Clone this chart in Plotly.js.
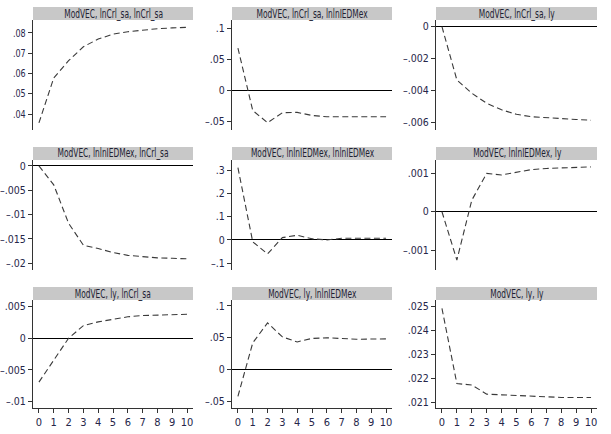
<!DOCTYPE html>
<html>
<head>
<meta charset="utf-8">
<script src="https://cdn.plot.ly/plotly-3.0.1.min.js"></script>
<style>html,body{margin:0;padding:0;background:#fff;}#chart{width:611px;height:434px;}</style>
</head>
<body>
<div id="chart"></div>
<script>
// Periods
var periods = [0,1,2,3,4,5,6,7,8,9,10];

// Panel titles
var panelTitles = [
  "ModVEC, lnCrl_sa, lnCrl_sa",
  "ModVEC, lnCrl_sa, lnlnIEDMex",
  "ModVEC, lnCrl_sa, ly",
  "ModVEC, lnlnIEDMex, lnCrl_sa",
  "ModVEC, lnlnIEDMex, lnlnIEDMex",
  "ModVEC, lnlnIEDMex, ly",
  "ModVEC, ly, lnCrl_sa",
  "ModVEC, ly, lnlnIEDMex",
  "ModVEC, ly, ly"
];

// Impulse responses
var crl_crl   = [0.0356, 0.0578, 0.0663, 0.0732, 0.0770, 0.0794, 0.0806, 0.0815, 0.0821, 0.0825, 0.0828];
var crl_ied   = [0.0682, -0.0320, -0.0516, -0.0356, -0.0350, -0.0400, -0.0420, -0.0420, -0.0420, -0.0420, -0.0420];
var crl_ly    = [0.0000, -0.00333, -0.00416, -0.00479, -0.00520, -0.00548, -0.00563, -0.00570, -0.00577, -0.00580, -0.00585];
var ied_crl   = [0.0000, -0.0039, -0.0118, -0.0163, -0.0170, -0.0178, -0.0184, -0.0187, -0.0189, -0.0190, -0.0191];
var ied_ied   = [0.310, -0.008, -0.060, 0.010, 0.020, 0.005, 0.000, 0.007, 0.007, 0.007, 0.007];
var ied_ly    = [0.0000, -0.00126, 0.00030, 0.00100, 0.00096, 0.00103, 0.00110, 0.00113, 0.00115, 0.00116, 0.00117];
var ly_crl    = [-0.00694, -0.00342, 0.0000, 0.0020, 0.0026, 0.0030, 0.0034, 0.0036, 0.0037, 0.0037, 0.0038];
var ly_ied    = [-0.042, 0.042, 0.0734, 0.0514, 0.0435, 0.049, 0.050, 0.049, 0.0477, 0.048, 0.0483];
var ly_ly     = [0.02493, 0.02179, 0.02173, 0.02135, 0.02132, 0.02129, 0.02125, 0.02122, 0.02121, 0.02121, 0.02121];

var series = [crl_crl, crl_ied, crl_ly, ied_crl, ied_ied, ied_ly, ly_crl, ly_ied, ly_ly];

// Y tick values and labels
var yTickVals = [
  [0.04, 0.05, 0.06, 0.07, 0.08],
  [-0.05, 0, 0.05, 0.1],
  [-0.006, -0.004, -0.002, 0],
  [-0.02, -0.015, -0.01, -0.005, 0],
  [-0.1, 0, 0.1, 0.2, 0.3],
  [-0.001, 0, 0.001],
  [-0.01, -0.005, 0, 0.005],
  [-0.05, 0, 0.05, 0.1],
  [0.021, 0.022, 0.023, 0.024, 0.025]
];
var yTickText = [
  [".04", ".05", ".06", ".07", ".08"],
  ["\u2013.05", "0", ".05", ".1"],
  ["\u2013.006", "\u2013.004", "\u2013.002", "0"],
  ["\u2013.02", "\u2013.015", "\u2013.01", "\u2013.005", "0"],
  ["\u2013.1", "0", ".1", ".2", ".3"],
  ["\u2013.001", "0", ".001"],
  ["\u2013.01", "\u2013.005", "0", ".005"],
  ["\u2013.05", "0", ".05", ".1"],
  [".021", ".022", ".023", ".024", ".025"]
];
var xTickText = ["0","1","2","3","4","5","6","7","8","9","10"];

// layout geometry (pixels)
var W = 611, H = 434;
var colPx = [[33,193],[232,392],[436,597]];
var rowPx = [[20,130],[160,270],[300,408]];
var yRanges = [
  [0.0321, 0.0864],
  [-0.0633, 0.1133],
  [-0.00646, 0.00042],
  [-0.0214, 0.0012],
  [-0.129, 0.343],
  [-0.00152, 0.00135],
  [-0.01104, 0.00606],
  [-0.0604, 0.1094],
  [0.02077, 0.02528]
];

var FAM = "Liberation Sans Narrow, DejaVu Sans Condensed, sans-serif";
var yTickFont = {family: FAM, size: 10.5, color: "#26264a"};
var xTickFont = {family: FAM, size: 11, color: "#26264a"};
var traces = [];
var layout = {
  width: W, height: H,
  margin: {l:0, r:0, t:0, b:0},
  paper_bgcolor: "#ffffff",
  plot_bgcolor: "#ffffff",
  showlegend: false,
  shapes: [],
  annotations: []
};

for (var i = 0; i < 9; i++) {
  var r = Math.floor(i / 3), c = i % 3;
  var n = i + 1;
  var xa = "xaxis" + (n === 1 ? "" : n);
  var ya = "yaxis" + (n === 1 ? "" : n);
  var xs = "x" + (n === 1 ? "" : n);
  var ys = "y" + (n === 1 ? "" : n);
  var x0 = colPx[c][0] / W, x1 = colPx[c][1] / W;
  var yb = 1 - rowPx[r][1] / H, yt = 1 - rowPx[r][0] / H;
  var bottom = (r === 2);

  traces.push({
    x: periods, y: series[i], xaxis: xs, yaxis: ys,
    type: "scatter", mode: "lines",
    line: {color: "#3a3a3a", width: 1.1, dash: "6px,3.5px"},
    hoverinfo: "skip"
  });

  layout[xa] = {
    domain: [x0, x1], anchor: ys, range: [-0.4, 10.4],
    showgrid: false, zeroline: false,
    showline: bottom, linecolor: "#333333", linewidth: 1,
    ticks: bottom ? "outside" : "", ticklen: 4, tickcolor: "#333333",
    tickvals: periods, ticktext: xTickText,
    showticklabels: bottom, tickfont: xTickFont, fixedrange: true
  };
  layout[ya] = {
    domain: [yb, yt], anchor: xs, range: yRanges[i],
    showgrid: false,
    zeroline: true, zerolinecolor: "#000000", zerolinewidth: 1,
    showline: true, linecolor: "#333333", linewidth: 1.2,
    ticks: "outside", ticklen: 4, tickcolor: "#333333",
    tickvals: yTickVals[i], ticktext: yTickText[i],
    tickfont: yTickFont, fixedrange: true
  };

  // title box
  var tTop = rowPx[r][0] - 13, tBot = rowPx[r][0];
  layout.shapes.push({
    type: "rect", xref: "paper", yref: "paper",
    x0: x0, x1: x1, y0: 1 - tBot / H, y1: 1 - tTop / H,
    fillcolor: "#c8c8c8", line: {width: 0}, layer: "below"
  });
  layout.annotations.push({
    xref: "paper", yref: "paper",
    x: (x0 + x1) / 2, y: 1 - (tTop + tBot) / 2 / H,
    xanchor: "center", yanchor: "middle",
    text: panelTitles[i], showarrow: false,
    font: {family: FAM, size: 11.5, color: "#222233"}
  });
}

// condense rendered text to the narrow look of the reference
function squeeze(sel, s) {
  document.querySelectorAll(sel).forEach(function (t) {
    var w = t.getComputedTextLength();
    if (w > 0) {
      t.setAttribute("textLength", (w * s).toFixed(2));
      t.setAttribute("lengthAdjust", "spacingAndGlyphs");
    }
  });
}

Plotly.newPlot("chart", traces, layout, {staticPlot: true, displayModeBar: false}).then(function () {
  squeeze("#chart .annotation-text", 0.72);
  squeeze("#chart g.ytick text", 0.85);
  squeeze("#chart g.xtick text", 0.88);
});
</script>
</body>
</html>
